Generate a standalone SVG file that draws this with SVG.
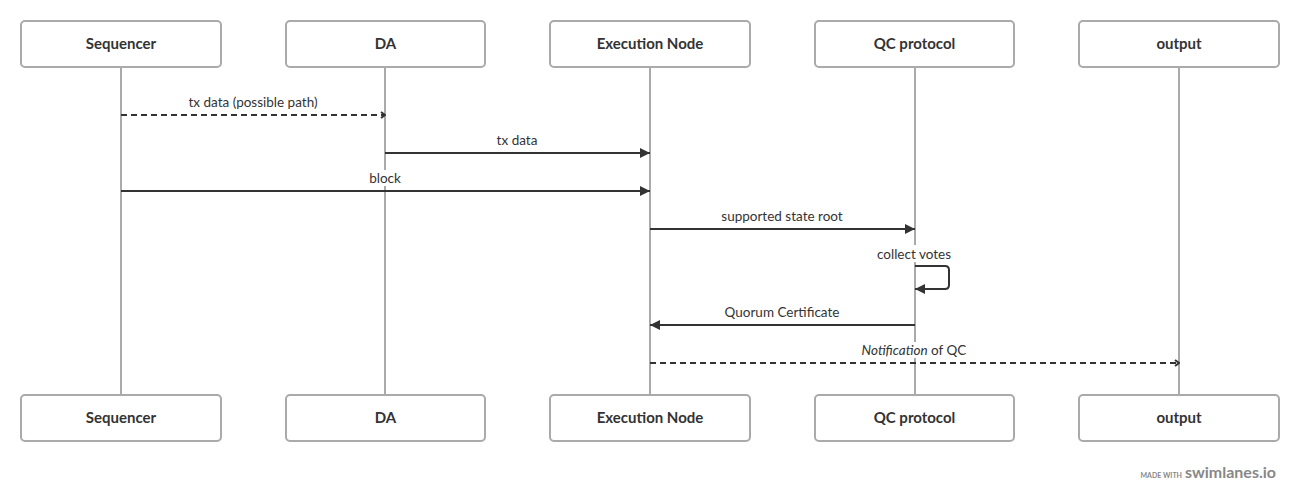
<svg xmlns="http://www.w3.org/2000/svg" width="1300" height="502" viewBox="0 0 1300 502">
<style>
.box{fill:#fff;stroke:#aaa;stroke-width:2}
.name{font-family:Lato,"Open Sans",sans-serif;font-weight:bold;font-size:15px;fill:#333;text-anchor:middle}
.life{stroke:#aaa;stroke-width:2}
.msg{stroke:#333;stroke-width:2;fill:none}
.dash{stroke-dasharray:6 4}
.lbl{font-family:Lato,"Open Sans",sans-serif;font-size:13.5px;fill:#333;text-anchor:middle}
.bg{fill:#fff}
</style>
<defs>
<marker id="tri" viewBox="0 0 10 10" refX="10" refY="5" markerWidth="10" markerHeight="10" markerUnits="userSpaceOnUse" orient="auto">
<path d="M0,0 L10,5 L0,10 z" fill="#333"/>
</marker>
<marker id="open" viewBox="0 0 10 10" refX="9" refY="5" markerWidth="10" markerHeight="10" markerUnits="userSpaceOnUse" orient="auto">
<path d="M5,2 L9,5 L5,8" fill="none" stroke="#333" stroke-width="2"/>
</marker>
</defs>
<rect width="1300" height="502" fill="#fff"/>
<g id="lifelines">
<line class="life" x1="121" y1="67" x2="121" y2="395"/>
<line class="life" x1="385" y1="67" x2="385" y2="395"/>
<line class="life" x1="650" y1="67" x2="650" y2="395"/>
<line class="life" x1="915" y1="67" x2="915" y2="395"/>
<line class="life" x1="1179" y1="67" x2="1179" y2="395"/>
</g>
<g id="connectors">
<g><rect class="bg" x="185" y="94" width="136" height="16"/><text class="lbl" x="253" y="107">tx data (possible path)</text>
<line class="msg dash" x1="121" y1="115" x2="385" y2="115" marker-end="url(#open)"/></g>
<g><rect class="bg" x="495" y="132" width="44" height="16"/><text class="lbl" x="517" y="145">tx data</text>
<line class="msg" x1="385" y1="153" x2="650" y2="153" marker-end="url(#tri)"/></g>
<g><rect class="bg" x="366" y="170" width="38" height="16"/><text class="lbl" x="385" y="183">block</text>
<line class="msg" x1="121" y1="191" x2="650" y2="191" marker-end="url(#tri)"/></g>
<g><rect class="bg" x="719" y="208" width="126" height="16"/><text class="lbl" x="782" y="221">supported state root</text>
<line class="msg" x1="650" y1="229" x2="915" y2="229" marker-end="url(#tri)"/></g>
<g><rect class="bg" x="875" y="245" width="79" height="17"/><text class="lbl" x="914" y="259">collect votes</text>
<path class="msg" d="M915,266 H945 Q949,266 949,270 V285 Q949,289 945,289 H915" marker-end="url(#tri)"/></g>
<g><rect class="bg" x="723" y="304" width="118" height="16"/><text class="lbl" x="782" y="317">Quorum Certificate</text>
<line class="msg" x1="915" y1="325" x2="650" y2="325" marker-end="url(#tri)"/></g>
<g><rect class="bg" x="860" y="342" width="108" height="16"/><text class="lbl" x="914" y="355"><tspan font-style="italic">Notification</tspan> of QC</text>
<line class="msg dash" x1="650" y1="363" x2="1179" y2="363" marker-end="url(#open)"/></g>
</g>
<g id="node-sequencer-top"><rect class="box" x="21" y="21" width="200" height="46" rx="4"/><text class="name" x="121" y="49">Sequencer</text></g>
<g id="node-da-top"><rect class="box" x="286" y="21" width="199" height="46" rx="4"/><text class="name" x="385.5" y="49">DA</text></g>
<g id="node-exec-top"><rect class="box" x="550" y="21" width="200" height="46" rx="4"/><text class="name" x="650" y="49">Execution Node</text></g>
<g id="node-qc-top"><rect class="box" x="815" y="21" width="199" height="46" rx="4"/><text class="name" x="914.5" y="49">QC protocol</text></g>
<g id="node-output-top"><rect class="box" x="1079" y="21" width="200" height="46" rx="4"/><text class="name" x="1179" y="49">output</text></g>
<g id="node-sequencer-bottom"><rect class="box" x="21" y="395" width="200" height="46" rx="4"/><text class="name" x="121" y="423">Sequencer</text></g>
<g id="node-da-bottom"><rect class="box" x="286" y="395" width="199" height="46" rx="4"/><text class="name" x="385.5" y="423">DA</text></g>
<g id="node-exec-bottom"><rect class="box" x="550" y="395" width="200" height="46" rx="4"/><text class="name" x="650" y="423">Execution Node</text></g>
<g id="node-qc-bottom"><rect class="box" x="815" y="395" width="199" height="46" rx="4"/><text class="name" x="914.5" y="423">QC protocol</text></g>
<g id="node-output-bottom"><rect class="box" x="1079" y="395" width="200" height="46" rx="4"/><text class="name" x="1179" y="423">output</text></g>
<g id="watermark">
<text x="1182" y="478" font-family="Lato,sans-serif" font-size="7" font-weight="bold" fill="#888" text-anchor="end">MADE WITH</text>
<text x="1276" y="478" font-family="Lato,sans-serif" font-size="16" font-weight="bold" fill="#888" text-anchor="end">swimlanes.io</text>
</g>
</svg>
